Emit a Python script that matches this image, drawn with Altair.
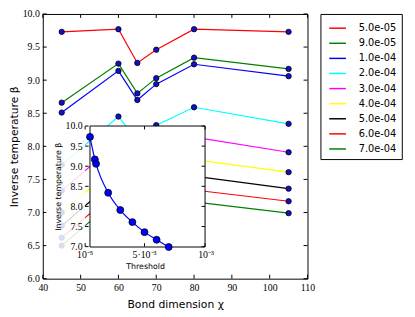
import altair as alt
import pandas as pd

# ---------------- data ----------------
chi = [45, 60, 65, 70, 80, 105]
labels = ["5.0e-05", "9.0e-05", "1.0e-04", "2.0e-04", "3.0e-04",
          "4.0e-04", "5.0e-04", "6.0e-04", "7.0e-04"]
threshold_values = [5e-5, 9e-5, 1e-4, 2e-4, 3e-4, 4e-4, 5e-4, 6e-4, 7e-4]
colors = ["#ff0000", "#008000", "#0000ff", "#00ffff", "#ff00ff",
          "#ffff00", "#000000", "#ff0000", "#008000"]

beta_5e5 = [9.73, 9.77, 9.26, 9.46, 9.77, 9.73]
beta_9e5 = [8.66, 9.25, 8.80, 9.03, 9.34, 9.17]
beta_1e4 = [8.51, 9.14, 8.70, 8.94, 9.24, 9.06]
beta_2e4 = [7.72, 8.45, 8.09, 8.32, 8.59, 8.34]
beta_3e4 = [7.33, 8.06, 7.70, 7.88, 8.14, 7.91]
beta_4e4 = [7.00, 7.73, 7.40, 7.57, 7.80, 7.61]
beta_5e4 = [6.80, 7.53, 7.18, 7.33, 7.55, 7.36]
beta_6e4 = [6.62, 7.35, 7.00, 7.13, 7.34, 7.17]
beta_7e4 = [6.50, 7.23, 6.88, 6.98, 7.16, 6.99]
series = [beta_5e5, beta_9e5, beta_1e4, beta_2e4, beta_3e4,
          beta_4e4, beta_5e4, beta_6e4, beta_7e4]

# inset: beta at chi = 105 versus threshold
inset_beta = [9.73, 9.17, 9.06, 8.34, 7.91, 7.61, 7.36, 7.17, 6.99]

x_ticks = [40, 50, 60, 70, 80, 90, 100, 110]
y_ticks = [6.0, 6.5, 7.0, 7.5, 8.0, 8.5, 9.0, 9.5, 10.0]
inset_x_ticks = [1e-5, 5e-4, 1e-3]
inset_x_labels = ["10⁻⁵", "5·10⁻³", "10⁻³"]
inset_y_ticks = [7.0, 7.5, 8.0, 8.5, 9.0, 9.5, 10.0]

# ---------------- tables ----------------
rows = []
for lab, vals in zip(labels, series):
    for c, b in zip(chi, vals):
        rows.append({"label": lab, "chi": c, "beta": b})
main_df = pd.DataFrame(rows)
inset_df = pd.DataFrame({"thr": threshold_values, "b": inset_beta})
xt_df = pd.DataFrame({"chi": x_ticks})
yt_df = pd.DataFrame({"beta": y_ticks})
ixt_df = pd.DataFrame({"thr": inset_x_ticks, "txt": inset_x_labels})
ixl_first = pd.DataFrame({"pos": inset_x_ticks[:2], "txt": inset_x_labels[:2]})
ixl_last = pd.DataFrame({"pos": inset_x_ticks[2:], "txt": inset_x_labels[2:]})
iyt_df = pd.DataFrame({"b": inset_y_ticks})

W, H = 270, 270
SERIF = "Liberation Serif"
SANS = "DejaVu Sans"

xscale = alt.Scale(domain=[40, 110], nice=False, zero=False)
yscale = alt.Scale(domain=[6, 10], nice=False, zero=False)

x_axis = alt.Axis(values=x_ticks, ticks=False, domain=False, grid=False,
                  labelFont=SERIF, labelFontSize=10, labelPadding=4,
                  labelFlush=False, labelOverlap=False,
                  titleFont=SANS, titleFontSize=11, titleFontWeight="normal",
                  titlePadding=6, titleColor="black", labelColor="black")
y_axis = alt.Axis(values=y_ticks, format=".1f", ticks=False, domain=False, grid=False,
                  labelFont=SERIF, labelFontSize=10, labelPadding=3.5,
                  labelOverlap=False, labelFlush=False,
                  titleFont=SANS, titleFontSize=11, titleFontWeight="normal",
                  titlePadding=3, titleColor="black", labelColor="black")
X = alt.X("chi:Q", scale=xscale, title="Bond dimension χ", axis=x_axis)
Y = alt.Y("beta:Q", scale=yscale, title="Inverse temperature β", axis=y_axis)

color = alt.Color("label:N", sort=labels,
                  scale=alt.Scale(domain=labels, range=colors),
                  legend=alt.Legend(orient="none", legendX=283.2, legendY=0, title=None,
                                    symbolType="stroke", symbolSize=289,
                                    symbolStrokeWidth=1.5, labelFont=SANS,
                                    labelFontSize=10, labelColor="black",
                                    labelOffset=12, rowPadding=0.4, padding=5,
                                    symbolOffset=3, strokeColor="black",
                                    fillColor="white", cornerRadius=0))

lines = alt.Chart(main_df).mark_line(strokeWidth=1.2).encode(x=X, y=Y, color=color)
points = alt.Chart(main_df).mark_circle(size=30, color="#1010c8", stroke="black",
                                        strokeWidth=0.8, opacity=1).encode(
    x=X, y=Y, detail="label:N")

tick_b = alt.Chart(xt_df).mark_rule(color="black", strokeWidth=1).encode(
    x=X, y=alt.value(H), y2=alt.value(H - 4))
tick_t = alt.Chart(xt_df).mark_rule(color="black", strokeWidth=1).encode(
    x=X, y=alt.value(0), y2=alt.value(4))
tick_l = alt.Chart(yt_df).mark_rule(color="black", strokeWidth=1).encode(
    y=Y, x=alt.value(0), x2=alt.value(4))
tick_r = alt.Chart(yt_df).mark_rule(color="black", strokeWidth=1).encode(
    y=Y, x=alt.value(W), x2=alt.value(W - 4))

main = alt.layer(lines, points, tick_b, tick_t, tick_l, tick_r)

# ---------------- inset ----------------
IX0, IX1 = 43.2, 165.5
IY0, IY1 = 237.3, 114.3   # beta 7 -> IY0, beta 10 -> IY1
ixscale = alt.Scale(domain=[1e-5, 1e-3], range=[IX0, IX1], nice=False, zero=False)
iyscale = alt.Scale(domain=[7, 10], range=[IY0, IY1], nice=False, zero=False)

ix_axis = alt.Axis(orient="bottom", offset=IY0 - H, values=inset_x_ticks,
                   labels=False, ticks=False, domain=False, grid=False, zindex=2,
                   titleFont=SANS, titleFontSize=8, titleFontWeight="normal",
                   titlePadding=16, titleColor="black")
iy_axis = alt.Axis(orient="left", offset=-IX0, values=inset_y_ticks, format=".1f",
                   ticks=False, domain=False, grid=False, zindex=2,
                   labelFont=SERIF, labelFontSize=10, labelPadding=3,
                   labelFlush=False, labelOverlap=False,
                   titleFont=SANS, titleFontSize=8, titleFontWeight="normal",
                   titlePadding=3, titleColor="black", labelColor="black")
IXA = alt.X("thr:Q", scale=ixscale, title="Threshold", axis=ix_axis)
IYA = alt.Y("b:Q", scale=iyscale, title="Inverse temperature β", axis=iy_axis)

haze = alt.Chart(alt.Data(values=[{}])).mark_rect(color="white", opacity=0.85).encode(
    x=alt.value(3.5), x2=alt.value(IX0), y=alt.value(IY1), y2=alt.value(265))
frame = alt.Chart(inset_df).mark_rect(fill="white", stroke="black",
                                      strokeWidth=1).encode(
    x=alt.X("min(thr):Q", scale=ixscale, title="Threshold", axis=ix_axis),
    x2=alt.datum(1e-3),
    y=alt.Y("min(b):Q", scale=iyscale, title="Inverse temperature β", axis=iy_axis),
    y2=alt.datum(10))
iline = alt.Chart(inset_df).mark_line(color="#0000ff", strokeWidth=1.2,
                                      interpolate="monotone").encode(x=IXA, y=IYA)
ipoints = alt.Chart(inset_df).mark_circle(size=50, color="#0000ff", stroke="black",
                                          strokeWidth=0.8, opacity=1).encode(x=IXA, y=IYA)

itick_b = alt.Chart(ixt_df).mark_rule(color="black").encode(
    x=IXA, y=alt.value(IY0), y2=alt.value(IY0 - 3.5))
itick_t = alt.Chart(ixt_df).mark_rule(color="black").encode(
    x=IXA, y=alt.value(IY1), y2=alt.value(IY1 + 3.5))
itick_l = alt.Chart(iyt_df).mark_rule(color="black").encode(
    y=IYA, x=alt.value(IX0), x2=alt.value(IX0 + 3.5))
itick_r = alt.Chart(iyt_df).mark_rule(color="black").encode(
    y=IYA, x=alt.value(IX1), x2=alt.value(IX1 - 3.5))

inset = alt.layer(haze, frame, iline, ipoints, itick_b, itick_t, itick_l, itick_r)

# inset x tick labels (separate scale on field "pos", same domain and range)
pscale = alt.Scale(domain=[1e-5, 1e-3], range=[IX0, IX1], nice=False, zero=False)
ixlab1 = alt.Chart(ixl_first).mark_text(font=SERIF, fontSize=10, color="black",
                                        baseline="middle").encode(
    x=alt.X("pos:Q", scale=pscale, axis=None), y=alt.value(IY0 + 9), text="txt:N")
ixlab2 = alt.Chart(ixl_last).mark_text(font=SERIF, fontSize=10, color="black",
                                       baseline="middle", align="right", dx=9).encode(
    x=alt.X("pos:Q", scale=pscale, axis=None), y=alt.value(IY0 + 9), text="txt:N")
ixlabels = alt.layer(ixlab1, ixlab2)

chart = alt.layer(main, inset, ixlabels).resolve_scale(
    x="independent", y="independent"
).properties(
    width=W, height=H,
    autosize=alt.AutoSizeParams(type="none"),
    padding={"left": 35.5, "top": 3, "right": 101.5, "bottom": 36},
    background="white",
).configure_view(stroke="black", strokeWidth=1).configure_axis(labelOverlap=False)

chart.save("out.html", embed_options={"renderer": "svg", "actions": False})
